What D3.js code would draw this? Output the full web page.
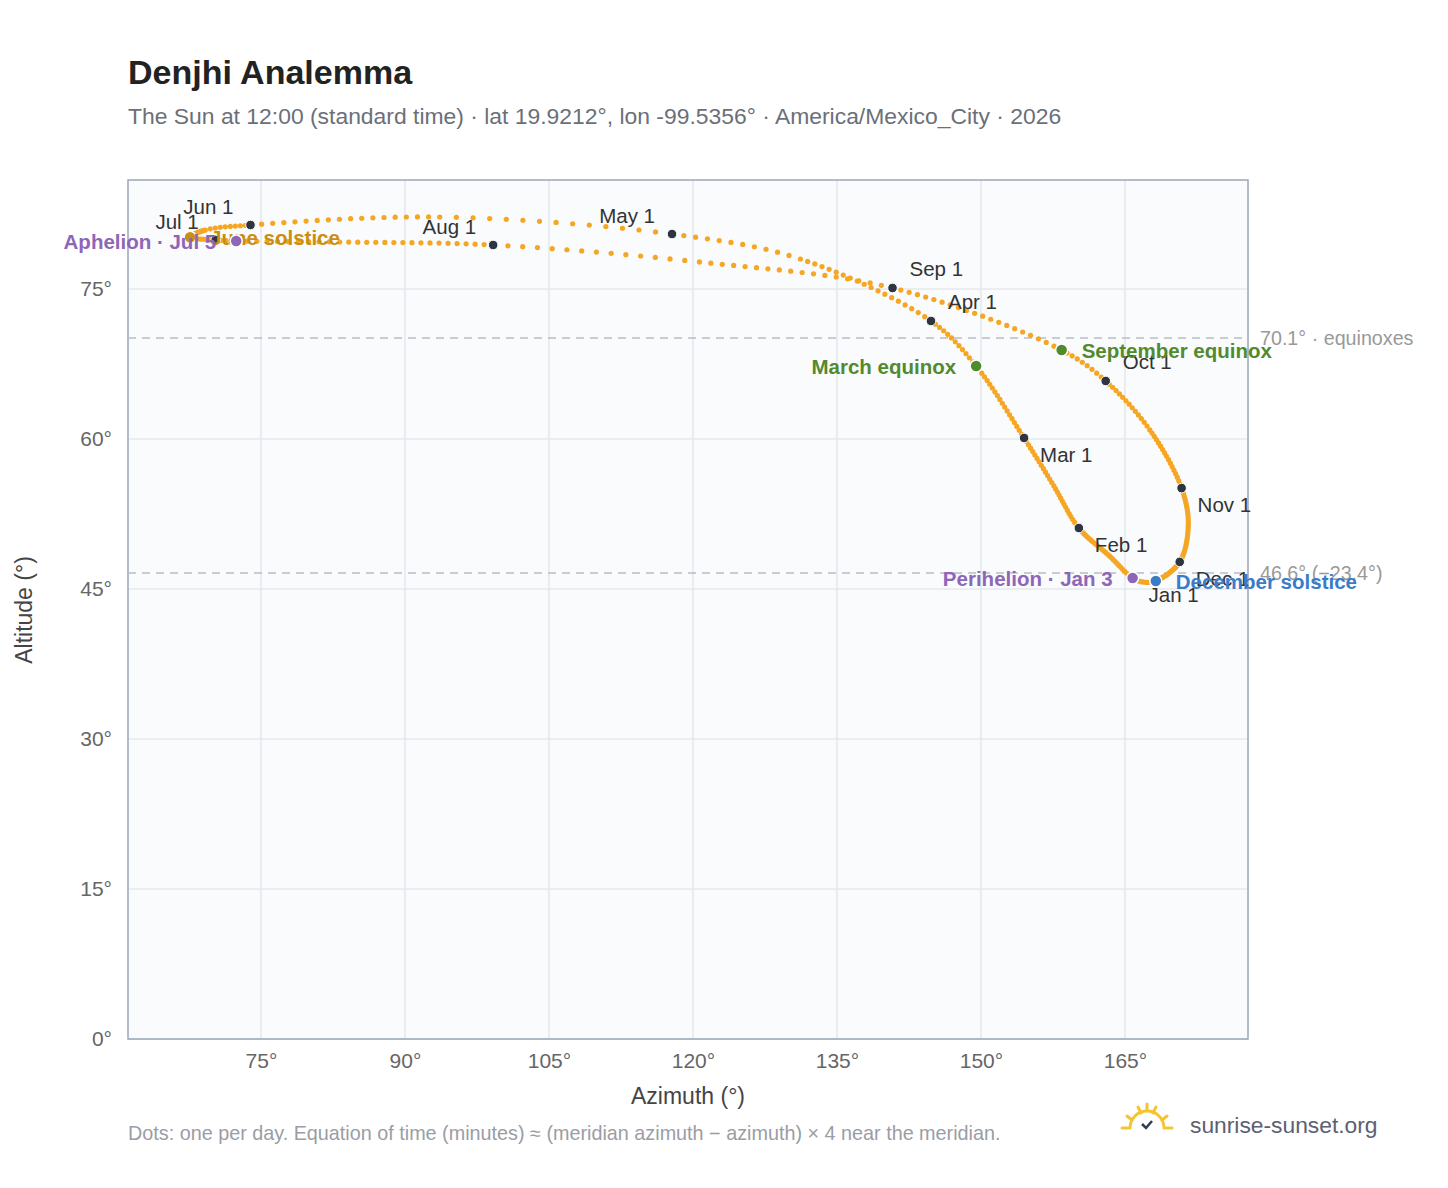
<!DOCTYPE html>
<html><head><meta charset="utf-8">
<script src="https://cdn.jsdelivr.net/npm/d3@7/dist/d3.min.js"></script>
<style>body{margin:0;background:#fff;font-family:"Liberation Sans",Arial,sans-serif}</style>
</head><body><svg id="c" width="1448" height="1188"></svg>
<script>
// anchor points: day of year (0 = Jan 1), azimuth, altitude
const anchorDays = [0,2,14,31,45,59,78,90,109,120,134,151,160,171,181,185,195,212,226,243,264,273,287,304,318,334,354];
const anchorAz   = [166.9,165.8,163.4,160.2,157.6,154.5,149.5,144.8,131.2,117.8,93.6,73.9,69.2,67.6,70.3,72.4,83.2,99.2,120.7,140.8,158.4,163.0,167.6,170.9,171.6,170.7,168.2];
const anchorAlt  = [45.7,46.1,48.3,51.1,55.3,60.1,67.3,71.8,78.0,80.5,82.2,81.4,80.9,80.2,79.9,79.8,79.7,79.4,77.7,75.1,68.9,65.8,60.9,55.1,51.4,47.7,45.8];
const monthLabels = ["Jan 1","Feb 1","Mar 1","Apr 1","May 1","Jun 1","Jul 1","Aug 1","Sep 1","Oct 1","Nov 1","Dec 1"];
const monthDays   = [0,31,59,90,120,151,181,212,243,273,304,334];
const monthPlace  = ["rb","rb","rb","ra","la","la","la","la","ra","ra","rb","rb"];
const events = [
  {name:"March equinox", day:78, color:"#528a2e", side:"l"},
  {name:"September equinox", day:264, color:"#528a2e", side:"r"},
  {name:"June solstice", day:171, color:"#c98f12", side:"r"},
  {name:"December solstice", day:354, color:"#3b7cc9", side:"r"},
  {name:"Perihelion · Jan 3", day:2, color:"#8e66b8", side:"l"},
  {name:"Aphelion · Jul 5", day:185, color:"#8e66b8", side:"l"}
];
const refLines = [{v:70.1,t:"70.1° · equinoxes"},{v:46.6,t:"46.6° (−23.4°)"}];
const xTicks = [75,90,105,120,135,150,165];
const yTicks = [0,15,30,45,60,75];

const svg = d3.select("#c");
const L=128,R=1248,T=180,B=1039;
const x = d3.scaleLinear().domain([61.15,177.82]).range([L,R]);
const y = d3.scaleLinear().domain([0,85.9]).range([B,T]);

svg.append("text").attr("x",128).attr("y",84).attr("font-size",34).attr("font-weight","bold").attr("fill","#222").text("Denjhi Analemma");
svg.append("text").attr("x",128).attr("y",124).attr("font-size",22.9).attr("fill","#6b6f78").text("The Sun at 12:00 (standard time) · lat 19.9212°, lon -99.5356° · America/Mexico_City · 2026");

svg.append("rect").attr("x",L).attr("y",T).attr("width",R-L).attr("height",B-T).attr("fill","#f9fbfd");
const g = svg.append("g");
xTicks.forEach(t=>g.append("line").attr("x1",x(t)).attr("x2",x(t)).attr("y1",T).attr("y2",B).attr("stroke","#e4e8ee").attr("stroke-width",1.5));
yTicks.forEach(t=>g.append("line").attr("x1",L).attr("x2",R).attr("y1",y(t)).attr("y2",y(t)).attr("stroke","#e4e8ee").attr("stroke-width",1.5));
svg.append("rect").attr("x",L).attr("y",T).attr("width",R-L).attr("height",B-T).attr("fill","none").attr("stroke","#9aa6b5").attr("stroke-width",1.5);

const xa = svg.append("g").attr("transform",`translate(0,${B})`).call(d3.axisBottom(x).tickValues(xTicks).tickFormat(d=>d+"°").tickSize(0).tickPadding(14));
const ya = svg.append("g").attr("transform",`translate(${L},0)`).call(d3.axisLeft(y).tickValues(yTicks).tickFormat(d=>d+"°").tickSize(0).tickPadding(16));
[xa,ya].forEach(a=>{a.select(".domain").remove();a.selectAll("text").attr("font-size",21).attr("fill","#666").attr("font-family","Liberation Sans, Arial, sans-serif");});
svg.append("text").attr("x",688).attr("y",1104).attr("text-anchor","middle").attr("font-size",23).attr("fill","#444").text("Azimuth (°)");
svg.append("text").attr("transform","translate(32,610) rotate(-90)").attr("text-anchor","middle").attr("font-size",23).attr("fill","#444").text("Altitude (°)");

refLines.forEach(r=>{
  svg.append("line").attr("x1",L).attr("x2",R).attr("y1",y(r.v)).attr("y2",y(r.v)).attr("stroke","#b8bdc6").attr("stroke-width",1.5).attr("stroke-dasharray","8,6");
  svg.append("text").attr("x",1260).attr("y",y(r.v)+7).attr("font-size",19.7).attr("fill","#999").text(r.t);
});

const pts = anchorDays.map((d,i)=>[x(anchorAz[i]),y(anchorAlt[i])]);
const path = svg.append("path").attr("d",d3.line().curve(d3.curveCatmullRomClosed.alpha(0.5))(pts)).attr("fill","none").attr("stroke","none");
const node = path.node(), total = node.getTotalLength();
const samples=[]; for(let s=0;s<=total;s+=0.5){const p=node.getPointAtLength(s);samples.push([s,p.x,p.y]);}
const anchorLen=[]; let si=0;
pts.forEach((p,i)=>{ if(i===0){anchorLen.push(0);return;}
  let best=si,bd=1e9; for(let k=si;k<samples.length;k++){const dd=(samples[k][1]-p[0])**2+(samples[k][2]-p[1])**2; if(dd<bd){bd=dd;best=k;} if(k-si>2000&&bd<4)break;}
  anchorLen.push(samples[best][0]); si=best;});
anchorLen.push(total);
const daysExt=[...anchorDays,365];
const lenAt = d3.scaleLinear().domain(daysExt).range(anchorLen);
const posDay = d=>{const p=node.getPointAtLength(lenAt(d));return [p.x,p.y];};
const days=d3.range(0,365);
svg.append("g").selectAll("circle").data(days).join("circle")
  .attr("cx",d=>posDay(d)[0]).attr("cy",d=>posDay(d)[1]).attr("r",2.6).attr("fill","#f5a623");

monthDays.forEach((d,i)=>{
  const [px,py]=posDay(d);
  svg.append("circle").attr("cx",px).attr("cy",py).attr("r",4.8).attr("fill","#2f3540").attr("stroke","#fff").attr("stroke-width",1);
  const pl=monthPlace[i];
  const t=svg.append("text").attr("font-size",20.5).attr("fill","#333").text(monthLabels[i]);
  if(pl==="rb") t.attr("x",px+16).attr("y",py+24);
  else if(pl==="ra") t.attr("x",px+17).attr("y",py-12);
  else t.attr("x",px-17).attr("y",py-11).attr("text-anchor","end");
});
events.forEach(e=>{
  const [px,py]=posDay(e.day);
  svg.append("circle").attr("cx",px).attr("cy",py).attr("r",6).attr("fill",e.color).attr("stroke","#fff").attr("stroke-width",1.5);
  svg.append("text").attr("x",e.side==="l"?px-20:px+20).attr("y",py+8).attr("text-anchor",e.side==="l"?"end":"start")
    .attr("font-size",20.5).attr("font-weight","bold").attr("fill",e.color).text(e.name);
});

svg.append("text").attr("x",128).attr("y",1140).attr("font-size",19.8).attr("fill","#9a9da5").text("Dots: one per day. Equation of time (minutes) ≈ (meridian azimuth − azimuth) × 4 near the meridian.");
const lg=svg.append("g").attr("transform","translate(1147,1128)").attr("stroke","#f5c431").attr("stroke-width",3).attr("fill","none").attr("stroke-linecap","round");
lg.append("path").attr("d","M-17,0 A17,17 0 0 1 17,0");
lg.append("line").attr("x1",-25).attr("y1",0).attr("x2",-19).attr("y2",0);
lg.append("line").attr("x1",19).attr("y1",0).attr("x2",25).attr("y2",0);
[[-20,-12,-15,-8],[20,-12,15,-8],[-9,-21,-6,-15],[9,-21,6,-15],[0,-24,0,-18]].forEach(a=>lg.append("line").attr("x1",a[0]).attr("y1",a[1]).attr("x2",a[2]).attr("y2",a[3]));
svg.append("path").attr("d","M1142,1124 l4,4 l6,-7").attr("stroke","#2d3e55").attr("stroke-width",2.5).attr("fill","none");
svg.append("text").attr("x",1190).attr("y",1133).attr("font-size",22.8).attr("fill","#5c6070").text("sunrise-sunset.org");
</script></body></html>
